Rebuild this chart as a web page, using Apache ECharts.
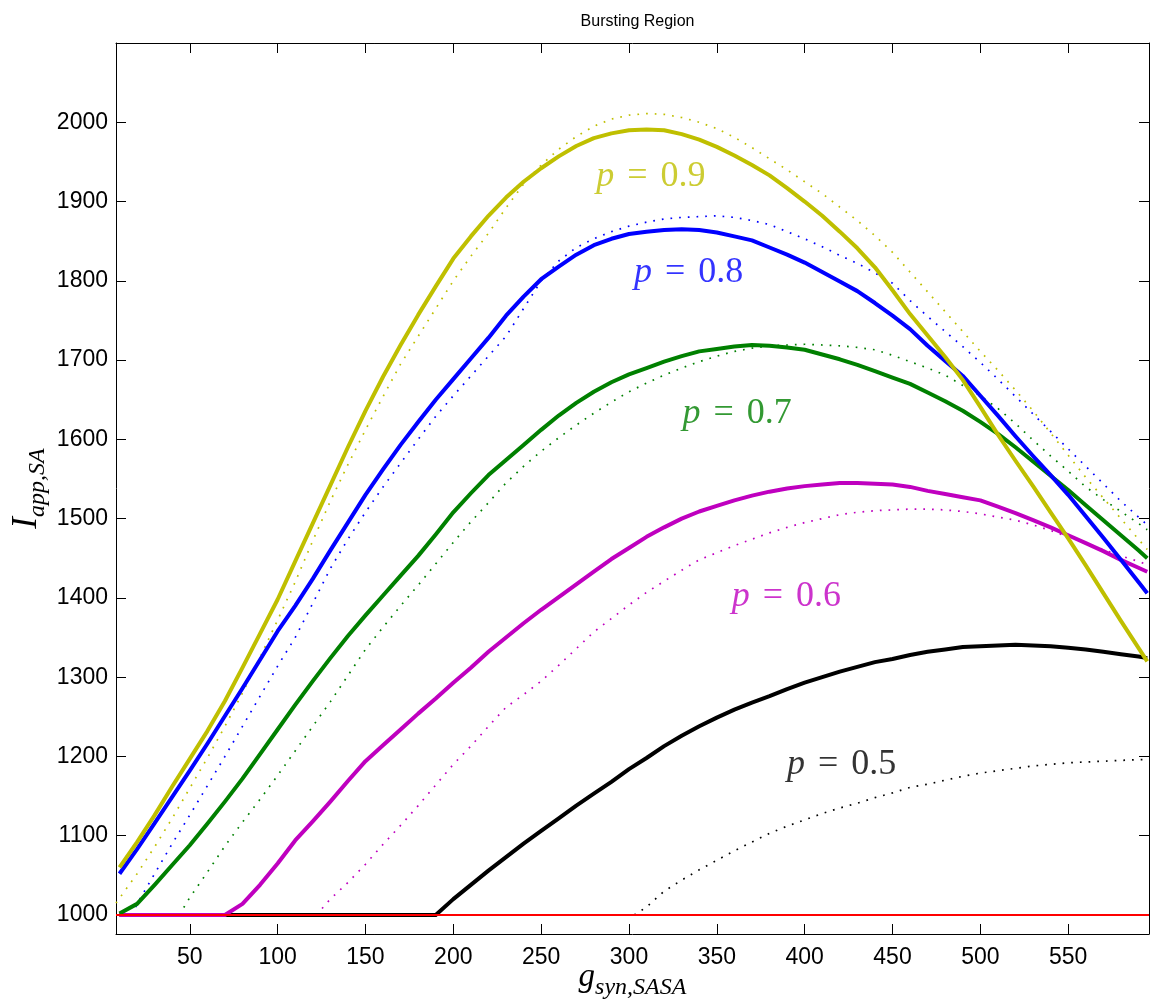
<!DOCTYPE html>
<html><head><meta charset="utf-8">
<script src="https://cdn.jsdelivr.net/npm/echarts@6/dist/echarts.min.js"></script>
<style>html,body{margin:0;padding:0;background:#fff}#c{width:1153px;height:1006px}</style>
</head><body><div id="c"></div>
<script>
// ---- tick labels ----
const xTicks = [50,100,150,200,250,300,350,400,450,500,550];
const yTicks = [1000,1100,1200,1300,1400,1500,1600,1700,1800,1900,2000];

// ---- shared x grid for solid curves ----
const xs = [10,20,30,40,50,60,70,80,90,100,110,120,130,140,150,160,170,180,190,200,
            210,220,230,240,250,260,270,280,290,300,310,320,330,340,350,360,370,380,390,400,
            410,420,430,440,450,460,470,480,490,500,510,520,530,540,550,560,570,580,590,595];

// ---- solid curves ----
const yellowSolid = [1060,1092,1126,1162,1197,1232,1270,1312,1355,1398,
                     1446,1494,1542,1590,1636,1679,1719,1757,1793,1828,
                     1856,1882,1905,1925,1942,1957,1970,1980,1986,1990,
                     1991,1990,1985,1978,1969,1958,1946,1933,1917,1900,
                     1882,1862,1841,1817,1788,1758,1731,1704,1675,1641,
                     1606,1573,1541,1508,1475,1441,1406,1371,1337,1320];
const blueSolid = [1052,1083,1116,1149,1182,1216,1251,1286,1322,1358,
                   1390,1424,1460,1495,1530,1562,1593,1622,1650,1676,
                   1702,1728,1756,1780,1802,1818,1833,1845,1853,1859,
                   1862,1864,1865,1864,1861,1856,1851,1842,1833,1823,
                   1811,1799,1787,1772,1756,1739,1718,1699,1680,1655,
                   1630,1604,1579,1555,1530,1503,1476,1448,1420,1406];
const greenSolid = [1002,1014,1038,1063,1088,1115,1143,1172,1203,1234,
                    1265,1295,1324,1352,1378,1403,1428,1453,1480,1508,
                    1532,1555,1574,1593,1612,1630,1646,1660,1672,1682,
                    1690,1698,1705,1711,1714,1717,1719,1718,1716,1713,
                    1707,1701,1694,1686,1678,1670,1659,1648,1636,1622,
                    1607,1590,1572,1554,1536,1517,1498,1479,1460,1450];
const magentaSolid = [1000,1000,1000,1000,1000,1000,1000,1014,1038,1065,
                      1094,1118,1143,1169,1194,1214,1234,1254,1273,1293,
                      1312,1332,1350,1368,1385,1401,1417,1433,1449,1463,
                      1477,1489,1500,1509,1516,1523,1529,1534,1538,1541,
                      1543,1545,1545,1544,1543,1540,1535,1531,1527,1523,
                      1515,1507,1498,1489,1479,1469,1459,1448,1438,1433];
const blackSolid = [1000,1000,1000,1000,1000,1000,1000,1000,1000,1000,
                    1000,1000,1000,1000,1000,1000,1000,1000,1000,1020,
                    1038,1056,1073,1090,1106,1122,1138,1153,1168,1184,
                    1198,1213,1226,1238,1249,1259,1268,1276,1285,1293,
                    1300,1307,1313,1319,1323,1328,1332,1335,1338,1339,
                    1340,1341,1340,1339,1337,1335,1332,1329,1326,1324];

// ---- dotted curves (own start x, then the shared grid) ----
const yellowDotX = [8].concat(xs.slice(1));
const yellowDot = [1015,1052,1086,1122,1160,1198,1238,1280,1325,1372,
                   1420,1472,1522,1568,1612,1654,1695,1730,1765,1800,
                   1831,1860,1892,1922,1946,1966,1982,1995,2004,2009,
                   2011,2010,2006,2000,1992,1981,1968,1954,1940,1925,
                   1910,1893,1876,1857,1836,1811,1786,1761,1736,1711,
                   1687,1662,1636,1608,1580,1552,1526,1500,1474,1461];
const blueDotX = [17].concat(xs.slice(1));
const blueDot = [1000,1014,1052,1090,1126,1163,1200,1238,1276,1314,
                 1350,1393,1437,1474,1508,1540,1570,1600,1629,1655,
                 1680,1705,1730,1765,1800,1825,1842,1853,1862,1869,
                 1874,1878,1880,1881,1882,1880,1876,1871,1862,1853,
                 1843,1832,1822,1810,1797,1775,1755,1736,1717,1697,
                 1676,1654,1632,1610,1588,1566,1544,1522,1502,1492];
const greenDotX = [44].concat(xs.slice(4));
const greenDot = [1000,1022,1054,1087,1117,1146,1176,
                  1207,1238,1269,1302,1335,1363,1390,1416,1443,1470,
                  1496,1520,1545,1566,1585,1602,1618,1633,1647,1660,
                  1671,1681,1690,1698,1705,1711,1715,1718,1719,1720,
                  1719,1718,1716,1713,1706,1698,1690,1681,1668,1655,
                  1639,1620,1599,1579,1560,1540,1524,1509,1494,1486];
const magentaDotX = [122].concat(xs.slice(12));
const magentaDot = [1000,1020,1041,1064,1089,1113,1138,1164,1190,
                    1213,1238,1262,1278,1295,1315,1336,1357,1374,1391,
                    1407,1421,1435,1448,1457,1466,1474,1482,1489,1495,
                    1500,1505,1508,1510,1511,1512,1512,1511,1509,1506,
                    1502,1498,1492,1485,1477,1469,1461,1453,1446,1442];
const blackDotX = [303].concat(xs.slice(30));
const blackDot = [1000,
                  1010,1030,1044,1057,1069,1081,1092,1103,1112,1120,
                  1128,1135,1141,1148,1154,1161,1165,1170,1175,1179,
                  1182,1185,1188,1190,1192,1193,1194,1195,1196,1196];

// ---- threshold line ----
const redX = [8, 596];
const redY = [1000, 1000];

// ---- curve annotations (data coords) ----
const labelX = [312.5, 334, 361.6, 389.6, 421];
const labelY = [1932, 1810, 1632, 1402, 1190];
const labelText = ['0.9', '0.8', '0.7', '0.6', '0.5'];

const C = {y:'#BFBF00', b:'#0000FF', g:'#008000', m:'#BF00BF', k:'#000000', r:'#FF0000'};
const labelColors = [C.y, C.b, C.g, C.m, C.k];

const pair = (X, Y) => X.map((x, i) => [x, Y[i]]);

const chart = echarts.init(document.getElementById('c'));
const GL = 116, GT = 43, GW = 1033, GH = 891;

function solid(name, Y, color) {
  return {name, type:'line', data: pair(xs, Y), showSymbol:false, symbol:'none',
    lineStyle:{color, width:4, cap:'butt', join:'round'}, z:3, silent:true, animation:false};
}
function dotted(name, X, Y, color) {
  return {name, type:'line', data: pair(X, Y), showSymbol:false, symbol:'none',
    lineStyle:{color, width:1.7, type:[1.7, 7], cap:'butt'}, z:2, silent:true, animation:false};
}

const serif = 'Liberation Serif';
const plain = v => String(v);
const axisCommon = {
  axisLine:{show:true, lineStyle:{color:'#000', width:1}},
  splitLine:{show:false}
};

chart.setOption({
  backgroundColor:'#fff',
  animation:false,
  title:{text:'Bursting Region', left: GL + GW/2, top: 9, textAlign:'center',
    textStyle:{fontFamily:'Liberation Sans', fontSize:16, fontWeight:'normal', color:'#000'}},
  grid:{left:GL, top:GT, width:GW, height:GH, containLabel:false, outerBoundsMode:'none'},
  xAxis:[
    Object.assign({type:'value', min:8, max:596, position:'bottom',
      axisTick:{inside:true, length:10, customValues:xTicks, lineStyle:{color:'#000'}},
      axisLabel:{customValues:xTicks, formatter:plain, margin:12, fontFamily:'Liberation Sans', fontSize:23, color:'#000'},
      name:'{m|g}{s|syn,SASA}', nameLocation:'middle', nameGap:20, nameMoveOverlap:false,
      nameTextStyle:{rich:{
        m:{fontFamily:serif, fontStyle:'italic', fontSize:33, color:'#000', lineHeight:40, verticalAlign:'middle'},
        s:{fontFamily:serif, fontStyle:'italic', fontSize:24, color:'#000', lineHeight:46, verticalAlign:'bottom'}
      }}
    }, axisCommon),
    Object.assign({type:'value', min:8, max:596, position:'top',
      axisTick:{inside:true, length:10, customValues:xTicks, lineStyle:{color:'#000'}},
      axisLabel:{show:false}
    }, axisCommon)
  ],
  yAxis:[
    Object.assign({type:'value', min:976, max:2100, position:'left',
      axisTick:{inside:true, length:10, customValues:yTicks, lineStyle:{color:'#000'}},
      axisLabel:{customValues:yTicks, formatter:plain, margin:8, fontFamily:'Liberation Sans', fontSize:23, color:'#000'},
      name:'{m|I}{s|app,SA}', nameLocation:'middle', nameRotate:90, nameGap:66, nameMoveOverlap:false,
      nameTextStyle:{rich:{
        m:{fontFamily:serif, fontStyle:'italic', fontSize:35, color:'#000', lineHeight:40, verticalAlign:'middle'},
        s:{fontFamily:serif, fontStyle:'italic', fontSize:24, color:'#000', lineHeight:46, verticalAlign:'bottom'}
      }}
    }, axisCommon),
    Object.assign({type:'value', min:976, max:2100, position:'right',
      axisTick:{inside:true, length:10, customValues:yTicks, lineStyle:{color:'#000'}},
      axisLabel:{show:false}
    }, axisCommon)
  ],
  series:[
    dotted('p=0.5 dotted', blackDotX, blackDot, C.k),
    dotted('p=0.6 dotted', magentaDotX, magentaDot, C.m),
    dotted('p=0.7 dotted', greenDotX, greenDot, C.g),
    dotted('p=0.8 dotted', blueDotX, blueDot, C.b),
    dotted('p=0.9 dotted', yellowDotX, yellowDot, C.y),
    solid('p=0.5', blackSolid, C.k),
    solid('p=0.6', magentaSolid, C.m),
    solid('p=0.7', greenSolid, C.g),
    solid('p=0.8', blueSolid, C.b),
    solid('p=0.9', yellowSolid, C.y),
    {name:'threshold', type:'line', data: pair(redX, redY), showSymbol:false, symbol:'none',
      lineStyle:{color:C.r, width:2}, z:5, silent:true, animation:false},
    {name:'labels', type:'scatter', symbolSize:0, silent:true, z:6,
      data: labelX.map((x, i) => ({value:[x, labelY[i]],
        label:{show:true, position:'inside',
          formatter:'{p|p}{e|=}{n|' + labelText[i] + '}',
          rich:{
            p:{fontFamily:serif, fontStyle:'italic', fontSize:36, color:labelColors[i]},
            e:{fontFamily:serif, fontSize:36, color:labelColors[i], padding:[0,13,0,13]},
            n:{fontFamily:serif, fontSize:36, color:labelColors[i]}
          }}}))
    }
  ]
});
</script>
</body></html>
